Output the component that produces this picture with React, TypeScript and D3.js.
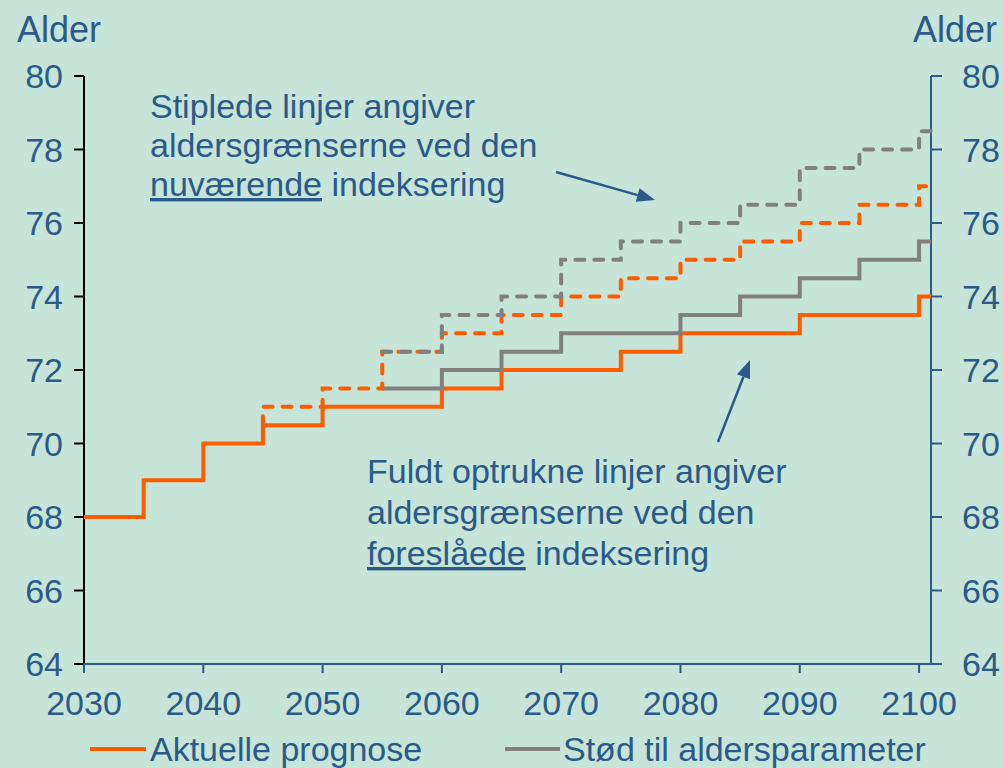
import React from "react";
import * as d3 from "d3";

// ---- Data ----
const xTickYears = [2030, 2040, 2050, 2060, 2070, 2080, 2090, 2100];
const yTickValues = [64, 66, 68, 70, 72, 74, 76, 78, 80];

// Aktuelle prognose (solid orange)
const aktSolidYears = [2030, 2035, 2040, 2045, 2050, 2060, 2065, 2075, 2080, 2090, 2100, 2101];
const aktSolidValues = [68, 69, 70, 70.5, 71, 71.5, 72, 72.5, 73, 73.5, 74, 74];

// Aktuelle prognose, nuværende indeksering (dashed orange)
const aktDashYears = [2045, 2045, 2050, 2055, 2060, 2065, 2070, 2075, 2080, 2085, 2090, 2095, 2100, 2101];
const aktDashValues = [70.5, 71, 71.5, 72.5, 73, 73.5, 74, 74.5, 75, 75.5, 76, 76.5, 77, 77];

// Stød til aldersparameter (solid gray)
const stodSolidYears = [2055, 2060, 2065, 2070, 2080, 2085, 2090, 2095, 2100, 2101];
const stodSolidValues = [71.5, 72, 72.5, 73, 73.5, 74, 74.5, 75, 75.5, 75.5];

// Stød til aldersparameter, nuværende indeksering (dashed gray)
const stodDashYears = [2055, 2060, 2065, 2070, 2075, 2080, 2085, 2090, 2095, 2100, 2101];
const stodDashValues = [72.5, 73.5, 74, 75, 75.5, 76, 76.5, 77.5, 78, 78.5, 78.5];

const legendLabels = ["Aktuelle prognose", "Stød til aldersparameter"];

// ---- Styles ----
const W = 1004;
const H = 768;
const BG = "#C7E4D9";
const BLUE = "#2C5A88";
const ORANGE = "#FF5C00";
const GRAY = "#808080";
const FONT = "'Liberation Sans', Arial, sans-serif";
const FS = 34;

const x = d3.scaleLinear().domain([2030, 2101]).range([84, 931]);
const y = d3.scaleLinear().domain([64, 80]).range([664, 76]);

const line = d3
  .line<[number, number]>()
  .x((d) => x(d[0]))
  .y((d) => y(d[1]))
  .curve(d3.curveStepAfter);

const zip = (a: number[], b: number[]) => a.map((v, i) => [v, b[i]] as [number, number]);

function Arrow({ x1, y1, x2, y2 }: { x1: number; y1: number; x2: number; y2: number }) {
  const ang = Math.atan2(y2 - y1, x2 - x1);
  const len = 18;
  const half = 7;
  const bx = x2 - len * Math.cos(ang);
  const by = y2 - len * Math.sin(ang);
  const px = -Math.sin(ang) * half;
  const py = Math.cos(ang) * half;
  return (
    <g>
      <line x1={x1} y1={y1} x2={bx} y2={by} stroke={BLUE} strokeWidth={2.5} />
      <polygon points={`${x2},${y2} ${bx + px},${by + py} ${bx - px},${by - py}`} fill={BLUE} />
    </g>
  );
}

export default function App() {
  const x0 = x.range()[0];
  const x1 = x.range()[1];
  const yTop = y.range()[1];
  const yBot = y.range()[0];
  return (
    <svg
      width={W}
      height={H}
      style={{ position: "absolute", left: 0, top: 0, display: "block" }}
      fontFamily={FONT}
    >
      <rect x={0} y={0} width={W} height={H} fill={BG} />

      {/* Axis titles */}
      <text x={17} y={42} fontSize={36} fill={BLUE}>Alder</text>
      <text x={997} y={42} fontSize={36} fill={BLUE} textAnchor="end">Alder</text>

      {/* Left axis (black) */}
      <line x1={x0} y1={yTop} x2={x0} y2={yBot} stroke="#000" strokeWidth={2} />
      {yTickValues.map((v) => (
        <g key={"l" + v}>
          <line x1={x0 - 10} x2={x0} y1={y(v)} y2={y(v)} stroke="#000" strokeWidth={2} />
          <text x={63} y={y(v) + 12} fontSize={FS} fill={BLUE} textAnchor="end">{v}</text>
        </g>
      ))}

      {/* Right axis (blue) */}
      <line x1={x1} y1={yTop} x2={x1} y2={yBot} stroke={BLUE} strokeWidth={2} />
      {yTickValues.map((v) => (
        <g key={"r" + v}>
          <line x1={x1} x2={x1 + 11} y1={y(v)} y2={y(v)} stroke={BLUE} strokeWidth={2} />
          <text x={962} y={y(v) + 12} fontSize={FS} fill={BLUE}>{v}</text>
        </g>
      ))}

      {/* X axis */}
      <line x1={x0} y1={yBot} x2={x1} y2={yBot} stroke={BLUE} strokeWidth={2} />
      {xTickYears.map((t) => (
        <g key={"x" + t}>
          <line x1={x(t)} x2={x(t)} y1={yBot} y2={yBot + 9} stroke={BLUE} strokeWidth={2} />
          <text x={x(t)} y={715} fontSize={FS} fill={BLUE} textAnchor="middle">{t}</text>
        </g>
      ))}

      {/* Data lines */}
      <path d={line(zip(aktSolidYears, aktSolidValues)) || ""} fill="none" stroke={ORANGE} strokeWidth={4} />
      <path d={line(zip(stodSolidYears, stodSolidValues)) || ""} fill="none" stroke={GRAY} strokeWidth={4} />
      <path
        d={line(zip(aktDashYears, aktDashValues)) || ""}
        fill="none"
        stroke={ORANGE}
        strokeWidth={4}
        strokeDasharray="9,10"
        strokeLinecap="round"
      />
      <path
        d={line(zip(stodDashYears, stodDashValues)) || ""}
        fill="none"
        stroke={GRAY}
        strokeWidth={4}
        strokeDasharray="9,10"
        strokeLinecap="round"
      />

      {/* Annotation 1 */}
      <text x={150} fontSize={FS} fill={BLUE}>
        <tspan x={150} y={118}>Stiplede linjer angiver</tspan>
        <tspan x={150} y={157}>aldersgrænserne ved den</tspan>
        <tspan x={150} y={196}>
          <tspan style={{ textDecoration: "underline" }}>nuværende</tspan> indeksering
        </tspan>
      </text>
      <Arrow x1={556} y1={172} x2={655} y2={200} />

      {/* Annotation 2 */}
      <text x={367} fontSize={FS} fill={BLUE}>
        <tspan x={367} y={483}>Fuldt optrukne linjer angiver</tspan>
        <tspan x={367} y={524}>aldersgrænserne ved den</tspan>
        <tspan x={367} y={565}>
          <tspan style={{ textDecoration: "underline" }}>foreslåede</tspan> indeksering
        </tspan>
      </text>
      <Arrow x1={718} y1={442} x2={750} y2={360} />

      {/* Legend */}
      <line x1={90} x2={146} y1={749} y2={749} stroke={ORANGE} strokeWidth={4} />
      <text x={150} y={761} fontSize={FS} fill={BLUE}>{legendLabels[0]}</text>
      <line x1={505} x2={560} y1={749} y2={749} stroke={GRAY} strokeWidth={4} />
      <text x={563} y={761} fontSize={FS} fill={BLUE}>{legendLabels[1]}</text>
    </svg>
  );
}
